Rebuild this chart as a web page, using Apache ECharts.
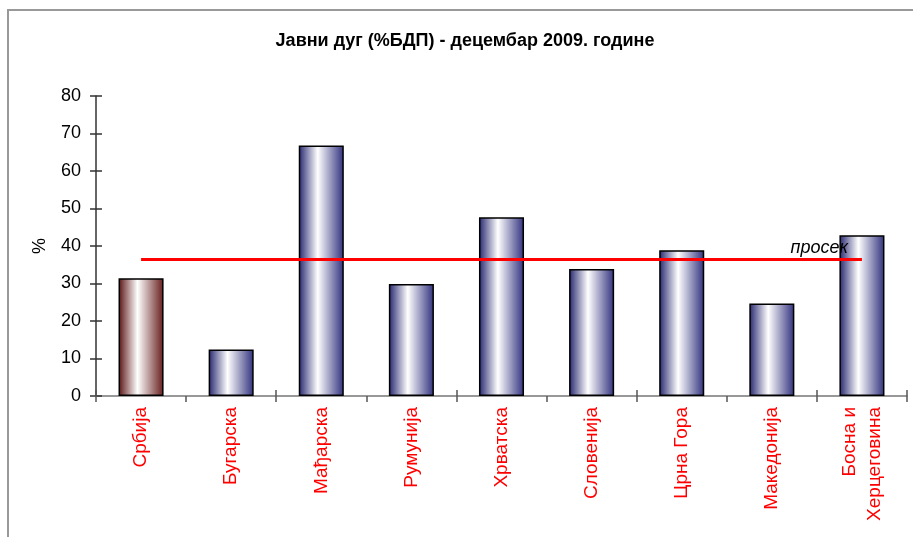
<!DOCTYPE html>
<html>
<head>
<meta charset="utf-8">
<script src="https://cdn.jsdelivr.net/npm/echarts@6/dist/echarts.min.js"></script>
<style>
html,body{margin:0;padding:0;background:#fff;}
#c{width:913px;height:537px;}
</style>
</head>
<body>
<div id="c"></div>
<script>
const categories = ['Србија','Бугарска','Мађарска','Румунија','Хрватска','Словенија','Црна Гора','Македонија','Босна и\nХерцеговина'];
const debtValues = [31.4, 12.4, 66.8, 29.9, 47.7, 33.9, 38.9, 24.7, 42.9];
const averageValue = 36.6;
const yTicks = [0, 10, 20, 30, 40, 50, 60, 70, 80];

const FONT = 'Arial, "Liberation Sans", sans-serif';
const blueGrad = {type:'linear',x:0,y:0,x2:1,y2:0,colorStops:[
  {offset:0,color:'#262670'},{offset:0.42,color:'#ffffff'},{offset:1,color:'#30307e'}]};
const redGrad = {type:'linear',x:0,y:0,x2:1,y2:0,colorStops:[
  {offset:0,color:'#5a1212'},{offset:0.42,color:'#ffffff'},{offset:1,color:'#661c1c'}]};

const chart = echarts.init(document.getElementById('c'));
chart.setOption({
  animation:false,
  backgroundColor:'#fff',
  graphic:[{type:'rect',shape:{x:8,y:10,width:920,height:540},style:{fill:'none',stroke:'#999',lineWidth:2},silent:true,z:-1}],
  title:{text:'Јавни дуг (%БДП) - децембар 2009. године',left:460,top:27,textAlign:'center',
    textStyle:{fontFamily:FONT,fontSize:18,fontWeight:'bold',color:'#000'}},
  grid:{left:96,top:96,right:6,bottom:141},
  xAxis:[{
    type:'category',data:categories,
    axisLine:{lineStyle:{color:'#777',width:1.5}},
    axisTick:{show:true,length:6,lineStyle:{color:'#555',width:1.5}},
    axisLabel:{rotate:90,color:'#ff0000',fontFamily:FONT,fontSize:19,margin:11,lineHeight:25}
  },{
    type:'category',data:categories,position:'bottom',
    axisLine:{show:false},
    axisTick:{show:true,inside:true,length:6,lineStyle:{color:'#555',width:1.5}},
    axisLabel:{show:false}
  }],
  yAxis:[{
    type:'value',min:yTicks[0],max:yTicks[yTicks.length-1],interval:10,
    name:'%',nameLocation:'middle',nameGap:47,nameRotate:90,
    nameTextStyle:{fontFamily:FONT,fontSize:18,color:'#000'},
    splitLine:{show:false},
    axisLine:{show:true,lineStyle:{color:'#333',width:1.5}},
    axisTick:{show:true,length:6,lineStyle:{color:'#333',width:1.5}},
    axisLabel:{color:'#000',fontFamily:FONT,fontSize:18,margin:15}
  },{
    type:'value',min:yTicks[0],max:yTicks[yTicks.length-1],interval:10,position:'left',
    splitLine:{show:false},
    axisLine:{show:false},
    axisTick:{show:true,inside:true,length:6,lineStyle:{color:'#333',width:1.5}},
    axisLabel:{show:false}
  }],
  series:[{
    type:'bar',barWidth:'50%',
    data:debtValues.map((v,i)=>({value:v,itemStyle:{color:i===0?redGrad:blueGrad}})),
    itemStyle:{borderColor:'#000',borderWidth:1.5},
    markLine:{
      silent:true,symbol:'none',
      lineStyle:{color:'#ff0000',width:3,type:'solid'},
      label:{show:true,position:'insideEndTop',formatter:'просек',color:'#000',
        fontFamily:FONT,fontSize:18,fontStyle:'italic',distance:[14,2]},
      data:[[{coord:[0,averageValue]},{coord:[categories.length-1,averageValue]}]]
    }
  }]
});
</script>
</body>
</html>
